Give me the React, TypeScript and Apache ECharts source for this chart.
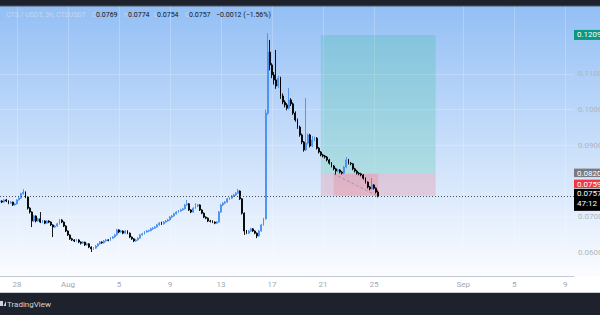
import React, { useEffect, useRef } from 'react';
import * as echarts from 'echarts';

const symbolTitle = 'CTS / USDT, 3h, CTSUSDT';
// candle open times, hours from Aug 1 00:00
const firstHour = -128;
const stepHours = 4;

const opens = [
  0.0742, 0.0744, 0.0741, 0.0747, 0.0744, 0.0738, 0.0741, 0.0733, 0.0736, 0.0747,
  0.0752, 0.0764, 0.0769, 0.0755, 0.0724, 0.0713, 0.0688, 0.0702, 0.0688, 0.0694,
  0.0685, 0.0688, 0.0682, 0.0688, 0.0685, 0.0677, 0.0671, 0.0674, 0.0680, 0.0691,
  0.0685, 0.0674, 0.0660, 0.0649, 0.0638, 0.0635, 0.0632, 0.0635, 0.0629, 0.0626,
  0.0629, 0.0621, 0.0624, 0.0615, 0.0610, 0.0612, 0.0618, 0.0624, 0.0629, 0.0627,
  0.0632, 0.0635, 0.0634, 0.0640, 0.0643, 0.0649, 0.0663, 0.0657, 0.0660, 0.0654,
  0.0660, 0.0654, 0.0643, 0.0638, 0.0632, 0.0635, 0.0640, 0.0649, 0.0652, 0.0657,
  0.0660, 0.0661, 0.0666, 0.0668, 0.0671, 0.0677, 0.0682, 0.0680, 0.0685, 0.0688,
  0.0691, 0.0699, 0.0702, 0.0708, 0.0713, 0.0716, 0.0719, 0.0722, 0.0733, 0.0736,
  0.0719, 0.0713, 0.0724, 0.0730, 0.0733, 0.0719, 0.0710, 0.0699, 0.0696, 0.0688,
  0.0687, 0.0685, 0.0682, 0.0685, 0.0713, 0.0733, 0.0738, 0.0741, 0.0750, 0.0752,
  0.0758, 0.0761, 0.0766, 0.0772, 0.0750, 0.0710, 0.0660, 0.0654, 0.0660, 0.0666,
  0.0660, 0.0654, 0.0646, 0.0660, 0.0677, 0.0694, 0.0990, 0.1161, 0.1125, 0.1097,
  0.1083, 0.1066, 0.1088, 0.1038, 0.1021, 0.1013, 0.1004, 0.1027, 0.1016, 0.0990,
  0.0971, 0.0951, 0.0929, 0.0909, 0.0887, 0.0906, 0.0929, 0.0898, 0.0915, 0.0920,
  0.0892, 0.0881, 0.0873, 0.0870, 0.0867, 0.0859, 0.0850, 0.0842, 0.0834, 0.0828,
  0.0831, 0.0825, 0.0822, 0.0839, 0.0859, 0.0850, 0.0848, 0.0834, 0.0828, 0.0822,
  0.0820, 0.0817, 0.0808, 0.0797, 0.0783, 0.0778, 0.0789, 0.0780, 0.0769,
];
const highs = [
  0.0747, 0.0746, 0.0749, 0.0750, 0.0746, 0.0744, 0.0742, 0.0739, 0.0749, 0.0755,
  0.0767, 0.0777, 0.0771, 0.0757, 0.0727, 0.0715, 0.0705, 0.0704, 0.0697, 0.0713,
  0.0691, 0.0690, 0.0690, 0.0690, 0.0687, 0.0679, 0.0677, 0.0683, 0.0694, 0.0693,
  0.0687, 0.0676, 0.0662, 0.0651, 0.0641, 0.0637, 0.0638, 0.0637, 0.0631, 0.0632,
  0.0630, 0.0627, 0.0626, 0.0617, 0.0615, 0.0621, 0.0626, 0.0632, 0.0631, 0.0635,
  0.0638, 0.0637, 0.0643, 0.0646, 0.0652, 0.0666, 0.0665, 0.0663, 0.0662, 0.0663,
  0.0662, 0.0656, 0.0645, 0.0640, 0.0638, 0.0643, 0.0652, 0.0655, 0.0660, 0.0663,
  0.0664, 0.0669, 0.0671, 0.0674, 0.0680, 0.0685, 0.0686, 0.0688, 0.0691, 0.0694,
  0.0702, 0.0705, 0.0711, 0.0716, 0.0719, 0.0722, 0.0725, 0.0736, 0.0747, 0.0738,
  0.0721, 0.0727, 0.0738, 0.0736, 0.0735, 0.0721, 0.0712, 0.0701, 0.0698, 0.0691,
  0.0690, 0.0687, 0.0688, 0.0716, 0.0736, 0.0741, 0.0744, 0.0753, 0.0755, 0.0761,
  0.0764, 0.0769, 0.0778, 0.0774, 0.0752, 0.0712, 0.0663, 0.0663, 0.0669, 0.0668,
  0.0662, 0.0656, 0.0663, 0.0680, 0.0697, 0.1000, 0.1214, 0.1195, 0.1130, 0.1105,
  0.1167, 0.1095, 0.1092, 0.1045, 0.1026, 0.1018, 0.1060, 0.1032, 0.1020, 0.0995,
  0.0975, 0.0955, 0.0933, 0.0912, 0.1032, 0.0933, 0.0932, 0.0926, 0.0924, 0.0923,
  0.0895, 0.0884, 0.0876, 0.0873, 0.0870, 0.0862, 0.0853, 0.0845, 0.0837, 0.0834,
  0.0833, 0.0828, 0.0842, 0.0867, 0.0862, 0.0853, 0.0850, 0.0837, 0.0831, 0.0825,
  0.0823, 0.0819, 0.0810, 0.0799, 0.0786, 0.0808, 0.0791, 0.0782, 0.0774,
];
const lows = [
  0.0739, 0.0738, 0.0739, 0.0741, 0.0735, 0.0736, 0.0730, 0.0731, 0.0734, 0.0745,
  0.0750, 0.0762, 0.0752, 0.0720, 0.0709, 0.0671, 0.0685, 0.0684, 0.0686, 0.0682,
  0.0682, 0.0679, 0.0680, 0.0682, 0.0674, 0.0643, 0.0668, 0.0672, 0.0678, 0.0682,
  0.0671, 0.0657, 0.0646, 0.0635, 0.0632, 0.0629, 0.0630, 0.0626, 0.0622, 0.0624,
  0.0618, 0.0619, 0.0612, 0.0601, 0.0607, 0.0610, 0.0616, 0.0622, 0.0624, 0.0625,
  0.0630, 0.0631, 0.0632, 0.0638, 0.0641, 0.0647, 0.0654, 0.0655, 0.0651, 0.0652,
  0.0651, 0.0640, 0.0635, 0.0629, 0.0630, 0.0633, 0.0638, 0.0647, 0.0650, 0.0655,
  0.0657, 0.0659, 0.0663, 0.0666, 0.0669, 0.0675, 0.0677, 0.0678, 0.0683, 0.0686,
  0.0689, 0.0696, 0.0700, 0.0706, 0.0711, 0.0714, 0.0717, 0.0720, 0.0731, 0.0716,
  0.0710, 0.0711, 0.0722, 0.0727, 0.0716, 0.0707, 0.0696, 0.0693, 0.0685, 0.0684,
  0.0682, 0.0679, 0.0680, 0.0683, 0.0711, 0.0730, 0.0735, 0.0739, 0.0747, 0.0750,
  0.0755, 0.0758, 0.0764, 0.0747, 0.0706, 0.0649, 0.0651, 0.0652, 0.0658, 0.0657,
  0.0651, 0.0640, 0.0644, 0.0658, 0.0675, 0.0692, 0.0985, 0.1110, 0.1088, 0.1070,
  0.1058, 0.1060, 0.1030, 0.1015, 0.1006, 0.0998, 0.1000, 0.1010, 0.0985, 0.0966,
  0.0946, 0.0924, 0.0903, 0.0882, 0.0884, 0.0902, 0.0894, 0.0895, 0.0911, 0.0888,
  0.0877, 0.0869, 0.0866, 0.0863, 0.0855, 0.0846, 0.0838, 0.0830, 0.0818, 0.0824,
  0.0821, 0.0818, 0.0819, 0.0836, 0.0846, 0.0844, 0.0830, 0.0824, 0.0818, 0.0816,
  0.0813, 0.0804, 0.0793, 0.0779, 0.0774, 0.0776, 0.0776, 0.0765, 0.0754,
];
const closes = [
  0.0744, 0.0741, 0.0747, 0.0744, 0.0738, 0.0741, 0.0733, 0.0736, 0.0747, 0.0752,
  0.0764, 0.0769, 0.0755, 0.0724, 0.0713, 0.0688, 0.0702, 0.0688, 0.0694, 0.0685,
  0.0688, 0.0682, 0.0688, 0.0685, 0.0677, 0.0671, 0.0674, 0.0680, 0.0691, 0.0685,
  0.0674, 0.0660, 0.0649, 0.0638, 0.0635, 0.0632, 0.0635, 0.0629, 0.0626, 0.0629,
  0.0621, 0.0624, 0.0615, 0.0610, 0.0612, 0.0618, 0.0624, 0.0629, 0.0627, 0.0632,
  0.0635, 0.0634, 0.0640, 0.0643, 0.0649, 0.0663, 0.0657, 0.0660, 0.0654, 0.0660,
  0.0654, 0.0643, 0.0638, 0.0632, 0.0635, 0.0640, 0.0649, 0.0652, 0.0657, 0.0660,
  0.0661, 0.0666, 0.0668, 0.0671, 0.0677, 0.0682, 0.0680, 0.0685, 0.0688, 0.0691,
  0.0699, 0.0702, 0.0708, 0.0713, 0.0716, 0.0719, 0.0722, 0.0733, 0.0736, 0.0719,
  0.0713, 0.0724, 0.0730, 0.0733, 0.0719, 0.0710, 0.0699, 0.0696, 0.0688, 0.0687,
  0.0685, 0.0682, 0.0685, 0.0713, 0.0733, 0.0738, 0.0741, 0.0750, 0.0752, 0.0758,
  0.0761, 0.0766, 0.0772, 0.0750, 0.0710, 0.0660, 0.0654, 0.0660, 0.0666, 0.0660,
  0.0654, 0.0646, 0.0660, 0.0677, 0.0694, 0.0990, 0.1161, 0.1125, 0.1097, 0.1083,
  0.1066, 0.1088, 0.1038, 0.1021, 0.1013, 0.1004, 0.1027, 0.1016, 0.0990, 0.0971,
  0.0951, 0.0929, 0.0909, 0.0887, 0.0906, 0.0929, 0.0898, 0.0915, 0.0920, 0.0892,
  0.0881, 0.0873, 0.0870, 0.0867, 0.0859, 0.0850, 0.0842, 0.0834, 0.0828, 0.0831,
  0.0825, 0.0822, 0.0839, 0.0859, 0.0850, 0.0848, 0.0834, 0.0828, 0.0822, 0.0820,
  0.0817, 0.0808, 0.0797, 0.0783, 0.0778, 0.0789, 0.0780, 0.0769, 0.0757,
];

const priceTicks = [0.06, 0.07, 0.09, 0.1, 0.11];
const timeTickHours = [-96, 0, 96, 192, 288, 384, 480, 576, 744, 840, 936];
const timeTickLabels = ['28', 'Aug', '5', '9', '13', '17', '21', '25', 'Sep', '5', '9'];

// long position tool
const positionStartHour = 476;
const positionEndHour = 692;
const entryFillHour = 500;
const entryPrice = 0.082;
const targetPrice = 0.1209;
const stopPrice = 0.0759;
const countdown = '47:12';

const UP = '#4a8ff0';
const DOWN = '#000000';
const FONT = 'Roboto, "Noto Sans", sans-serif';

export default function App() {
  const ref = useRef<HTMLDivElement>(null);

  useEffect(() => {
    if (!ref.current) return;
    const chart = echarts.init(ref.current, undefined, { renderer: 'svg' });
    const n = closes.length;
    const hours = closes.map((_, i) => firstHour + i * stepHours);
    const lastHour = hours[n - 1];
    const lastClose = closes[n - 1];
    const candleData = closes.map((c, i) => [hours[i], opens[i], c, lows[i], highs[i]]);

    chart.setOption({
      animation: false,
      grid: { left: 0, right: 26, top: 6, bottom: 39, outerBoundsMode: 'none', containLabel: false },
      xAxis: {
        type: 'value',
        min: firstHour,
        max: 952.5,
        axisLine: { show: true, lineStyle: { color: '#c3c8d2', width: 1 } },
        axisTick: { show: false, customValues: timeTickHours },
        splitLine: { show: true, lineStyle: { color: 'rgba(255,255,255,0.22)', width: 1 } },
        axisLabel: {
          customValues: timeTickHours,
          color: '#a3a7b0',
          fontSize: 8,
          fontFamily: FONT,
          margin: 4,
          formatter: (v: number) => {
            const k = timeTickHours.indexOf(Math.round(v));
            return k >= 0 ? timeTickLabels[k] : '';
          },
        },
      },
      yAxis: {
        type: 'value',
        position: 'right',
        min: 0.0534,
        max: 0.129,
        axisLine: { show: false },
        axisTick: { show: false, customValues: priceTicks },
        splitLine: { show: true, lineStyle: { color: 'rgba(255,255,255,0.22)', width: 1 } },
        axisLabel: {
          customValues: priceTicks,
          color: '#b0b5be',
          fontSize: 8,
          fontFamily: FONT,
          margin: 4,
          formatter: (v: number) => v.toFixed(4),
        },
      },
      series: [
        {
          type: 'candlestick',
          data: candleData,
          barWidth: 1.4,
          itemStyle: {
            color: UP,
            color0: DOWN,
            borderColor: UP,
            borderColor0: DOWN,
            borderWidth: 0.9,
          },
          markArea: {
            silent: true,
            label: { show: false },
            data: [
              [
                { xAxis: positionStartHour, yAxis: entryPrice, itemStyle: { color: 'rgba(30,190,130,0.2)' } },
                { xAxis: positionEndHour, yAxis: targetPrice },
              ],
              [
                { xAxis: positionStartHour, yAxis: stopPrice, itemStyle: { color: 'rgba(242,54,69,0.17)' } },
                { xAxis: positionEndHour, yAxis: entryPrice },
              ],
              [
                { xAxis: entryFillHour, yAxis: stopPrice, itemStyle: { color: 'rgba(242,54,69,0.15)' } },
                { xAxis: lastHour, yAxis: entryPrice },
              ],
            ],
          },
          markLine: {
            silent: true,
            precision: 6,
            symbol: ['none', 'none'],
            label: { show: false },
            data: [
              {
                yAxis: lastClose,
                lineStyle: { type: [1, 2], color: '#4a4f5a', width: 1 },
              },
              [
                { coord: [entryFillHour, entryPrice], lineStyle: { type: [3, 2], color: 'rgba(120,123,134,0.55)', width: 1 } },
                { coord: [lastHour, lastClose] },
              ],
            ],
          },
        },
      ],
    });

    const yOf = (p: number) => chart.convertToPixel({ yAxisIndex: 0 }, p) as number;
    const W = 600;
    const axisX = 574;
    const boxFont = `8px ${FONT}`;
    const yT = yOf(targetPrice);
    const yE = yOf(entryPrice);
    const yC = yOf(lastClose);
    const prevClose = closes[n - 2];
    const change = lastClose - prevClose;
    const pct = (change / prevClose) * 100;
    const fmt = (v: number) => (v < 0 ? '\u2212' + Math.abs(v).toFixed(4) : v.toFixed(4));
    const hdr = [
      { t: 'O', x: 92, c: '#c3d6f2' },
      { t: opens[n - 1].toFixed(4), x: 96, c: '#131722' },
      { t: 'H', x: 124, c: '#c3d6f2' },
      { t: highs[n - 1].toFixed(4), x: 128, c: '#131722' },
      { t: 'L', x: 154, c: '#c3d6f2' },
      { t: lows[n - 1].toFixed(4), x: 157, c: '#131722' },
      { t: 'C', x: 185, c: '#c3d6f2' },
      { t: closes[n - 1].toFixed(4), x: 189, c: '#131722' },
      { t: `${fmt(change)} (\u2212${Math.abs(pct).toFixed(2)}%)`, x: 216, c: '#131722' },
    ];

    const bgGradient = new echarts.graphic.LinearGradient(0, 0, 0, 1, [
      { offset: 0, color: '#93bff5' },
      { offset: 1, color: '#fbfcff' },
    ]);

    const boxLabel = (cy: number, h: number, fill: string, lines: string[]) => {
      const els: any[] = [
        { type: 'rect', shape: { x: axisX, y: cy - h / 2, width: W - axisX, height: h }, style: { fill }, z: 50 },
      ];
      lines.forEach((txt, k) => {
        els.push({
          type: 'text',
          x: axisX + 3,
          y: cy - h / 2 + 4.5 + k * 10,
          z: 51,
          style: { text: txt, fill: '#ffffff', font: boxFont, verticalAlign: 'middle' },
        });
      });
      return els;
    };

    chart.setOption({
      graphic: [
        { type: 'rect', shape: { x: 0, y: 6, width: W, height: 270 }, style: { fill: bgGradient }, z: -10 },
        { type: 'rect', shape: { x: 0, y: 276, width: W, height: 17 }, style: { fill: '#ffffff' }, z: -10 },
        { type: 'rect', shape: { x: 0, y: 0, width: W, height: 6 }, style: { fill: '#1e222d' }, z: 60 },
        { type: 'rect', shape: { x: 0, y: 5.5, width: W, height: 1 }, style: { fill: '#4c5466' }, z: 60 },
        { type: 'rect', shape: { x: 0, y: 292, width: W, height: 1 }, style: { fill: '#c9cdd6' }, z: 60 },
        { type: 'rect', shape: { x: 0, y: 293, width: W, height: 22 }, style: { fill: '#1e222d' }, z: 60 },
        { type: 'rect', shape: { x: 0, y: 301, width: 3, height: 5 }, style: { fill: '#d1d4dc' }, z: 61 },
        { type: 'polygon', shape: { points: [[3.5, 306], [6, 301], [6, 306]] }, style: { fill: '#d1d4dc' }, z: 61 },
        {
          type: 'text', x: 7, y: 304, z: 61,
          style: { text: 'TradingView', fill: '#d1d4dc', font: `8px ${FONT}`, verticalAlign: 'middle' },
        },
        {
          type: 'text', x: 86, y: 15, z: 61,
          style: { text: symbolTitle, fill: '#c3d6f2', font: `7px ${FONT}`, align: 'right', verticalAlign: 'middle' },
        },
        ...hdr.map((h) => ({
          type: 'text', x: h.x, y: 15, z: 61,
          style: { text: h.t, fill: h.c, font: `7px ${FONT}`, verticalAlign: 'middle' },
        })),
        ...boxLabel(yT, 10, '#089981', [targetPrice.toFixed(4)]),
        ...boxLabel(yE - 1, 8.5, '#787b86', [entryPrice.toFixed(4)]),
        ...boxLabel(yC - 12.5, 8.5, '#f23645', [stopPrice.toFixed(4)]),
        ...boxLabel(yC + 3.5, 22, '#000000', [lastClose.toFixed(4), countdown]),
      ],
    });

    return () => chart.dispose();
  }, []);

  return <div ref={ref} style={{ position: 'absolute', left: 0, top: 0, width: 600, height: 315 }} />;
}
